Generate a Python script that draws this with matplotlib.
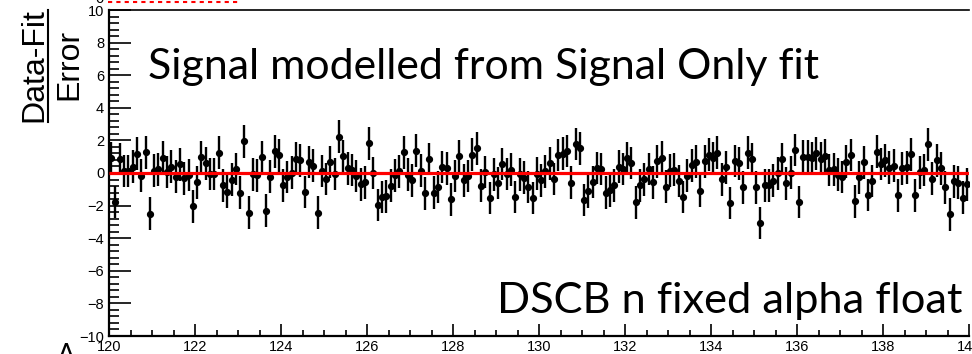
import matplotlib
matplotlib.use("Agg")
import matplotlib.pyplot as plt
from matplotlib.ticker import MultipleLocator
from matplotlib.lines import Line2D
import numpy as np

# ---------------- data ----------------
mass_lo, mass_hi, n_bins = 120.0, 140.0, 200
pulls = [
    0.90, -1.78, 0.86, 0.12, 0.12, 0.39, 1.19, -0.16, 1.27, -2.49,
    0.14, 0.22, 0.94, 0.06, 0.39, -0.22, 0.53, -0.33, -0.12, -2.04,
    -0.57, 0.98, 0.59, -0.06, -0.06, 1.25, -0.76, -1.15, -0.41, 0.25,
    -1.21, 1.94, -2.43, -0.08, -0.14, 0.96, -2.31, -0.22, 1.33, 1.08,
    -0.76, -0.25, 0.02, 0.88, 0.78, -1.16, 0.68, 0.46, -2.43, 0.13,
    -0.38, 0.68, -0.07, 2.23, 1.04, 0.28, 0.18, -0.18, -0.70, -0.57,
    1.82, 0.00, -1.96, -1.47, -1.43, -0.78, -0.14, 0.10, 1.27, -0.10,
    -0.45, 1.37, 0.14, -1.25, 0.86, -1.21, -0.86, 0.37, 0.29, -1.62,
    -0.18, 1.04, -0.45, -0.18, 1.12, 1.51, -0.78, 0.06, -1.53, -0.08,
    -0.61, 0.55, -0.06, 0.20, -1.47, -0.08, -0.29, -0.86, -1.53, -0.04,
    -0.45, 0.10, 0.59, -0.37, 1.10, 1.19, 1.35, -0.59, 1.78, 1.51,
    -1.66, -1.12, -0.55, 0.31, 0.25, -1.21, -1.06, -0.76, 0.39, 0.25,
    0.90, 0.61, -1.80, -0.76, -0.39, 0.25, -0.57, 0.72, 0.94, -0.84,
    0.14, 0.20, -0.49, -1.47, -0.16, 0.47, 0.70, -1.10, 0.72, 1.12,
    0.90, 1.25, -0.39, 0.35, -1.84, 0.74, 0.59, -0.88, 1.25, 0.86,
    -0.88, -3.07, -0.76, -0.76, -0.47, -0.02, 0.86, -0.63, 0.02, 1.41,
    -1.77, 1.00, 1.00, 0.90, 1.21, 0.88, 1.06, 0.18, 0.22, -0.10,
    -0.25, 0.70, 1.10, -1.74, -0.27, 0.65, -1.35, -0.49, 1.31, 0.55,
    0.78, 0.33, 0.45, -1.37, 0.29, 0.35, 1.15, -1.37, 0.04, 0.18,
    1.76, -0.35, 0.78, 0.29, -0.88, -2.54, -0.51, -0.59, -1.51, -0.70,
]
pull_errors = [1.0] * n_bins
fit_x = [mass_lo, mass_hi]
fit_y = [0.0, 0.0]

x_ticks = [120, 122, 124, 126, 128, 130, 132, 134, 136, 138, 140]
y_ticks = [-10, -8, -6, -4, -2, 0, 2, 4, 6, 8, 10]

title_top = "Signal modelled from Signal Only fit"
title_bottom = "DSCB n fixed alpha float"

# ---------------- figure ----------------
W, H = 972, 354
fig = plt.figure(figsize=(W / 100, H / 100), dpi=100)

def fx(px):
    return px / W

def fy(py):
    return 1 - py / H

ax = fig.add_axes([fx(109), fy(336), (969 - 109) / W, (336 - 10) / H])

edges = np.linspace(mass_lo, mass_hi, n_bins + 1)
centers = 0.5 * (edges[:-1] + edges[1:])

ax.errorbar(centers, pulls, yerr=pull_errors, fmt="o", color="black",
            ms=4.2, elinewidth=1.7, capsize=0, zorder=2)
ax.plot(fit_x, fit_y, color="#ff0000", lw=2.3, zorder=3, solid_capstyle="butt")

ax.set_xlim(mass_lo, mass_hi)
ax.set_ylim(-10, 10)
ax.set_xticks(x_ticks)
ax.set_yticks(y_ticks)
ax.xaxis.set_minor_locator(MultipleLocator(0.5))
ax.yaxis.set_minor_locator(MultipleLocator(0.4))

tick_font = {"family": ["Liberation Sans", "DejaVu Sans"], "size": 10.5}
ax.set_xticklabels([str(v) for v in x_ticks], fontdict=tick_font)
ax.set_yticklabels([("\u2212" + str(-v)) if v < 0 else str(v) for v in y_ticks],
                   fontdict=tick_font)

ax.tick_params(axis="x", which="major", direction="in", length=9, width=1.2,
               pad=3, top=False, bottom=True)
ax.tick_params(axis="x", which="minor", direction="in", length=4.5, width=1.2,
               top=False, bottom=True)
ax.tick_params(axis="y", which="major", direction="in", length=16, width=1.2,
               pad=3.5, left=True, right=False)
ax.tick_params(axis="y", which="minor", direction="in", length=7.5, width=1.2,
               left=True, right=False)

for side in ["left", "bottom", "top"]:
    ax.spines[side].set_linewidth(1.6)
ax.spines["top"].set_linewidth(1.2)
ax.spines["right"].set_visible(False)

# ---- y axis title as a fraction ----
title_family = ["Liberation Sans", "DejaVu Sans"]
fig.text(fx(42), fy(65), "Data-Fit", rotation=90, rotation_mode="anchor",
         ha="center", va="baseline", fontsize=23, family=title_family)
fig.text(fx(77), fy(64), "Error", rotation=90, rotation_mode="anchor",
         ha="center", va="baseline", fontsize=23, family=title_family)
fig.add_artist(Line2D([fx(48), fx(48)], [fy(10), fy(122)], color="black",
                      lw=1.5, transform=fig.transFigure))

# ---- remnants of upper panel ----
fig.text(fx(104), fy(3), "0", ha="right", va="baseline", fontsize=10.5,
         family=title_family)
fig.add_artist(Line2D([fx(108), fx(240)], [fy(1.5), fy(1.5)], color="#ff0000",
                      lw=1.5, ls=(0, (2, 2)), transform=fig.transFigure))
fig.text(fx(66), fy(343), "A", ha="center", va="top", fontsize=20,
         family=["Lato", "DejaVu Sans"])

# ---- annotations (fit to target width) ----
ann_family = ["Lato", "DejaVu Sans"]
fig.canvas.draw()
renderer = fig.canvas.get_renderer()

def fit_text(x_px, y_px, s, target_w, ha):
    t = fig.text(fx(x_px), fy(y_px), s, ha=ha, va="baseline", fontsize=30,
                 family=ann_family)
    w = t.get_window_extent(renderer=renderer).width
    t.set_fontsize(30 * target_w / w)
    return t

fit_text(148, 79, title_top, 670, "left")
fit_text(962, 313, title_bottom, 465, "right")

fig.savefig("out.png", dpi=100)
